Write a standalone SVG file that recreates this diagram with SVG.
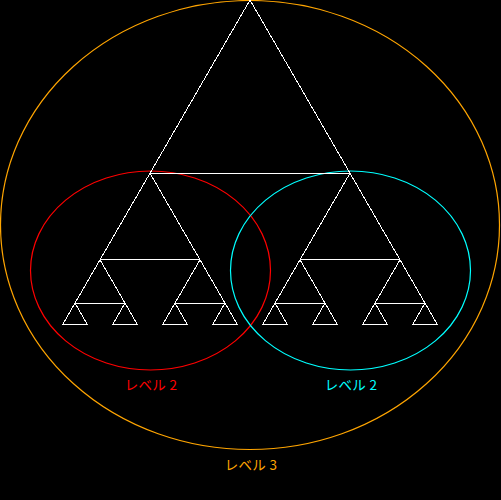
<svg xmlns="http://www.w3.org/2000/svg" width="501" height="500" viewBox="0 0 501 500">
<style>
.tri{fill:none;stroke:#ffffff;stroke-width:1;shape-rendering:crispEdges}
.ell{fill:none;stroke-width:1.2}
.lbl{font-family:"Noto Sans CJK JP","Liberation Sans",sans-serif;font-size:13.5px;letter-spacing:0.3px;text-anchor:middle}
</style>
<rect x="0" y="0" width="501" height="500" fill="#000000"/>
<g id="level3-region">
<ellipse class="ell" cx="250" cy="225" rx="249.5" ry="224.5" stroke="#ffa500"/>
<text class="lbl" x="251" y="470" fill="#ffa500">レベル 3</text>
</g>
<g id="level2-left-region">
<ellipse class="ell" cx="150.5" cy="270.5" rx="120" ry="99.5" stroke="#ff0000"/>
<text class="lbl" x="151" y="390" fill="#ff0000">レベル 2</text>
</g>
<g id="level2-right-region">
<ellipse class="ell" cx="350.5" cy="270.5" rx="120" ry="99.5" stroke="#00ffff"/>
<text class="lbl" x="351" y="390" fill="#00ffff">レベル 2</text>
</g>
<g id="tree">
<polygon class="tri" points="250,0 150,173.2 350,173.2"/>
<polygon class="tri" points="150,173.2 100,259.8 200,259.8"/>
<polygon class="tri" points="350,173.2 300,259.8 400,259.8"/>
<polygon class="tri" points="100,259.8 75,303.1 125,303.1"/>
<polygon class="tri" points="200,259.8 175,303.1 225,303.1"/>
<polygon class="tri" points="300,259.8 275,303.1 325,303.1"/>
<polygon class="tri" points="400,259.8 375,303.1 425,303.1"/>
<polygon class="tri" points="75,303.1 62.5,324.8 87.5,324.8"/>
<polygon class="tri" points="125,303.1 112.5,324.8 137.5,324.8"/>
<polygon class="tri" points="175,303.1 162.5,324.8 187.5,324.8"/>
<polygon class="tri" points="225,303.1 212.5,324.8 237.5,324.8"/>
<polygon class="tri" points="275,303.1 262.5,324.8 287.5,324.8"/>
<polygon class="tri" points="325,303.1 312.5,324.8 337.5,324.8"/>
<polygon class="tri" points="375,303.1 362.5,324.8 387.5,324.8"/>
<polygon class="tri" points="425,303.1 412.5,324.8 437.5,324.8"/>
</g>
</svg>
